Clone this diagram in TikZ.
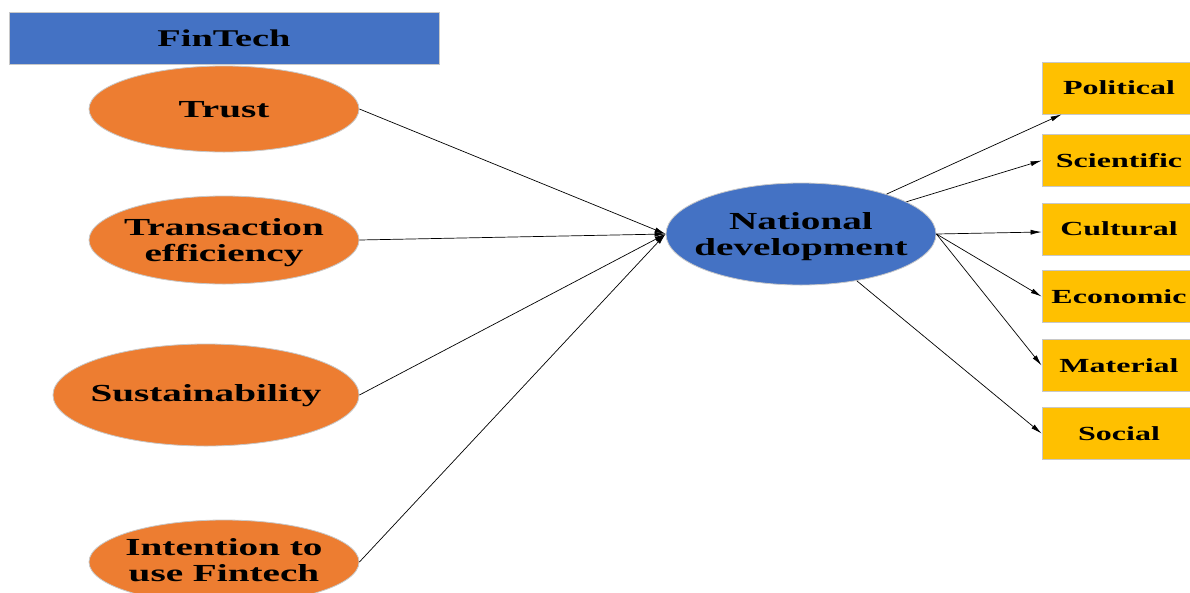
\documentclass[tikz,border=0pt]{standalone}
\usepackage{fontspec}
\setmainfont{Liberation Serif}[FakeStretch=1.6]
\usetikzlibrary{arrows.meta,shapes.geometric,calc}
\definecolor{fblue}{HTML}{4472C4}
\definecolor{forange}{HTML}{ED7D31}
\definecolor{fyellow}{HTML}{FFC000}
\definecolor{edgegray}{HTML}{C8C8C8}
\tikzset{
  oval/.style={ellipse, fill=forange, draw=edgegray, line width=0.8pt, inner sep=0pt},
  blueoval/.style={ellipse, fill=fblue, draw=edgegray, line width=0.8pt, inner sep=0pt},
  bigtext/.style={align=center, inner sep=0pt, font=\fontsize{24.5}{26}\selectfont\bfseries},
  bluebox/.style={rectangle, fill=fblue, draw=edgegray, line width=0.8pt, inner sep=0pt,
    font=\fontsize{24}{26}\selectfont\bfseries},
  ybox/.style={rectangle, fill=fyellow, draw=edgegray, line width=0.8pt, inner sep=0pt,
    minimum width=154, minimum height=52, font=\fontsize{20}{22}\selectfont\bfseries},
  arr/.style={-{Latex[length=11pt,width=5pt]}, line width=0.7pt, black},
}
\begin{document}
\begin{tikzpicture}[x=1pt,y=-1pt]
\useasboundingbox (0,0) rectangle (1190,592);
\clip (0,0) rectangle (1190,592);
\fill[white] (0,0) rectangle (1190,592);
\node[bluebox, minimum width=430, minimum height=52] (fin) at (224,38) {FinTech};
\node[oval, minimum width=270, minimum height=86] (trust) at (224,109) {};
\node[bigtext] (trustT) at ($(trust.center)+(0,1)$) {Trust};
\node[oval, minimum width=270, minimum height=88] (trans) at (224,240) {};
\node[bigtext] (transT) at ($(trans.center)+(0,3)$) {Transaction\\efficiency};
\node[oval, minimum width=306, minimum height=102] (sust) at (206,395) {};
\node[bigtext] (sustT) at ($(sust.center)+(0,1)$) {Sustainability};
\node[oval, minimum width=270, minimum height=84] (intent) at (224,562) {};
\node[bigtext] (intentT) at ($(intent.center)+(0,-2)$) {Intention to\\use Fintech};
\node[blueoval, minimum width=270, minimum height=102] (nd) at (801,234) {};
\node[bigtext] (ndT) at ($(nd.center)+(0,2.5)$) {National\\development};
\node[ybox] (pol) at (1119,88) {Political};
\node[ybox] (sci) at (1119,160.5) {Scientific};
\node[ybox] (cul) at (1119,229) {Cultural};
\node[ybox] (eco) at (1119,296.5) {Economic};
\node[ybox] (mat) at (1119,365.5) {Material};
\node[ybox] (soc) at (1119,433.5) {Social};
\draw[arr] (trust.east) -- (nd.west);
\draw[arr] (trans.east) -- (nd.west);
\draw[arr] (sust.east) -- (nd.west);
\draw[arr] (intent.east) -- (nd.west);
\draw[arr] (nd.25) -- ($(pol.south west)+(20,0)$);
\draw[arr] (nd.17) -- (sci.west);
\draw[arr] (nd.east) -- ($(cul.west)+(0,3)$);
\draw[arr] (nd.east) -- (eco.west);
\draw[arr] (nd.east) -- (mat.west);
\draw[arr] (nd.-40) -- (soc.west);
\end{tikzpicture}
\end{document}
